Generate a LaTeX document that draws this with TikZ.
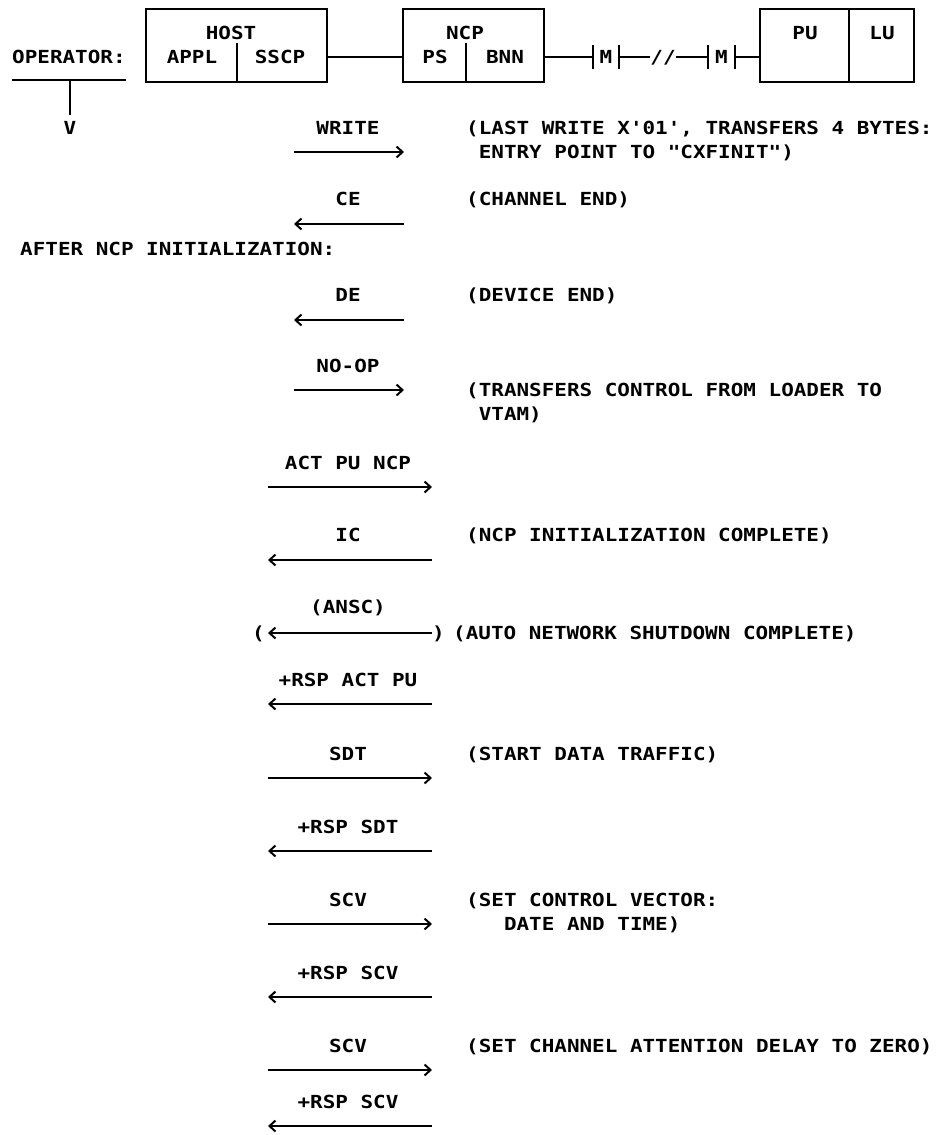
\documentclass[tikz,border=0pt]{standalone}
\usepackage{fontspec}
\newfontfamily\ibm[FakeStretch=1.163]{DejaVu Sans Mono}
\usetikzlibrary{arrows.meta}
\tikzset{
  txt/.style={font=\ibm\bfseries\fontsize{18}{20}\selectfont, inner sep=0pt, text height=13pt, text depth=0pt, anchor=west},
  lbl/.style={txt, anchor=center},
  ln/.style={line width=2pt},
  box/.style={draw, line width=2pt, inner sep=0pt, anchor=north west},
  tipx/.tip={Straight Barb[length=6pt,width=11pt,line width=2pt]},
  msg/.style={line width=2pt, -tipx},
}
\begin{document}
\begin{tikzpicture}[x=1pt,y=-1pt]
\useasboundingbox (0,0) rectangle (939,1135);
% ---------- header ----------
\node[txt] (op) at (12,57) {OPERATOR:};
\coordinate (opl) at (12,80);
\coordinate (opr) at (126,80);
\coordinate (opm) at (70,80);
\coordinate (opd) at (70,115);
\draw[ln] (opl) -- (opr);
\draw[ln] (opm) -- (opd);
\node[lbl] (v) at (70,128) {V};

\coordinate (hl) at (0,57);
\node[box, minimum width=181pt, minimum height=73pt] (host) at (145,8) {};
\node[lbl] (hostt) at (231,33) {HOST};
\node[lbl] (appl) at (192,57) {APPL};
\node[lbl] (sscp) at (280,57) {SSCP};
\coordinate (hd) at (237,43);
\draw[ln] (hd) -- (hd |- host.south);

\node[box, minimum width=141pt, minimum height=73pt] (ncp) at (402,8) {};
\node[lbl] (ncpt) at (465,33) {NCP};
\node[lbl] (ps) at (435,57) {PS};
\node[lbl] (bnn) at (505,57) {BNN};
\coordinate (nd) at (466,43);
\draw[ln] (nd) -- (nd |- ncp.south);

\node[box, minimum width=154pt, minimum height=73pt] (pu) at (759,8) {};
\node[lbl] (put) at (805,33) {PU};
\node[lbl] (lut) at (882,33) {LU};
\coordinate (pd) at (849,8);
\draw[ln] (pd) -- (pd |- pu.south);

\draw[ln] (host.east |- hl) -- (ncp.west |- hl);

\coordinate (b1) at (593,57);
\coordinate (b2) at (619,57);
\coordinate (b3) at (708,57);
\coordinate (b4) at (735,57);
\foreach \b in {b1,b2,b3,b4} {\draw[ln] ([yshift=12pt]\b) -- ([yshift=-12pt]\b);}
\node[lbl] (m1) at (606,57) {M};
\node[lbl] (m2) at (721.5,57) {M};
\node[lbl] (sl) at (663,57) {//};
\draw[ln] (ncp.east |- hl) -- (b1);
\draw[ln] (b2) -- (sl.west);
\draw[ln] (sl.east) -- (b3);
\draw[ln] (b4) -- (pu.west |- hl);

% ---------- message sequence ----------
% row 1 WRITE
\node[lbl] (l1) at (348,128) {WRITE};
\coordinate (s1) at (294,152); \coordinate (e1) at (404,152);
\draw[msg] (s1) -- (e1);
\node[txt] (x1a) at (466,128) {(LAST WRITE X'01', TRANSFERS 4 BYTES:};
\node[txt] (x1b) at (478.6,152) {ENTRY POINT TO "CXFINIT")};
% row 2 CE
\node[lbl] (l2) at (348,199) {CE};
\coordinate (s2) at (294,224); \coordinate (e2) at (404,224);
\draw[msg] (e2) -- (s2);
\node[txt] (x2) at (466,199) {(CHANNEL END)};

\node[txt] (after) at (20,249) {AFTER NCP INITIALIZATION:};

% row 3 DE
\node[lbl] (l3) at (348,295) {DE};
\coordinate (s3) at (294,320); \coordinate (e3) at (404,320);
\draw[msg] (e3) -- (s3);
\node[txt] (x3) at (466,295) {(DEVICE END)};
% row 4 NO-OP
\node[lbl] (l4) at (348,366) {NO-OP};
\coordinate (s4) at (294,390); \coordinate (e4) at (404,390);
\draw[msg] (s4) -- (e4);
\node[txt] (x4a) at (466,390) {(TRANSFERS CONTROL FROM LOADER TO};
\node[txt] (x4b) at (478.6,414) {VTAM)};
% row 5 ACT PU NCP
\node[lbl] (l5) at (348,463) {ACT PU NCP};
\coordinate (s5) at (268,487); \coordinate (e5) at (432,487);
\draw[msg] (s5) -- (e5);
% row 6 IC
\node[lbl] (l6) at (348,535) {IC};
\coordinate (s6) at (268,560); \coordinate (e6) at (432,560);
\draw[msg] (e6) -- (s6);
\node[txt] (x6) at (466,535) {(NCP INITIALIZATION COMPLETE)};
% row 7 (ANSC)
\node[lbl] (l7) at (348,607) {(ANSC)};
\coordinate (s7) at (268,633); \coordinate (e7) at (432,633);
\draw[msg] (e7) -- (s7);
\node[txt] (p7a) at (252,633) {(};
\node[txt] (p7b) at (432,633) {)};
\node[txt] (x7) at (453,633) {(AUTO NETWORK SHUTDOWN COMPLETE)};
% row 8 +RSP ACT PU
\node[lbl] (l8) at (348,680) {+RSP ACT PU};
\coordinate (s8) at (268,704); \coordinate (e8) at (432,704);
\draw[msg] (e8) -- (s8);
% row 9 SDT
\node[lbl] (l9) at (348,754) {SDT};
\coordinate (s9) at (268,778); \coordinate (e9) at (432,778);
\draw[msg] (s9) -- (e9);
\node[txt] (x9) at (466,754) {(START DATA TRAFFIC)};
% row 10 +RSP SDT
\node[lbl] (l10) at (348,827) {+RSP SDT};
\coordinate (s10) at (268,851); \coordinate (e10) at (432,851);
\draw[msg] (e10) -- (s10);
% row 11 SCV
\node[lbl] (l11) at (348,900) {SCV};
\coordinate (s11) at (268,924); \coordinate (e11) at (432,924);
\draw[msg] (s11) -- (e11);
\node[txt] (x11a) at (466,900) {(SET CONTROL VECTOR:};
\node[txt] (x11b) at (503.8,924) {DATE AND TIME)};
% row 12 +RSP SCV
\node[lbl] (l12) at (348,973) {+RSP SCV};
\coordinate (s12) at (268,997); \coordinate (e12) at (432,997);
\draw[msg] (e12) -- (s12);
% row 13 SCV
\node[lbl] (l13) at (348,1046) {SCV};
\coordinate (s13) at (268,1070); \coordinate (e13) at (432,1070);
\draw[msg] (s13) -- (e13);
\node[txt] (x13) at (466,1046) {(SET CHANNEL ATTENTION DELAY TO ZERO)};
% row 14 +RSP SCV
\node[lbl] (l14) at (348,1102) {+RSP SCV};
\coordinate (s14) at (268,1126); \coordinate (e14) at (432,1126);
\draw[msg] (e14) -- (s14);
\end{tikzpicture}
\end{document}
